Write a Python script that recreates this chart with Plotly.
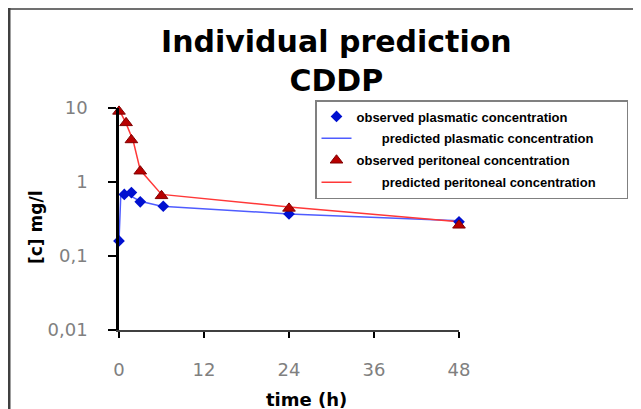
import plotly.graph_objects as go

# ---- data ----
t_obs_plasma = [0, 0.75, 1.75, 3, 6.25, 24, 48]
c_obs_plasma = [0.16, 0.68, 0.72, 0.54, 0.47, 0.37, 0.29]

t_pred_plasma = [0, 0.25, 1, 2, 3, 6, 24, 48]
c_pred_plasma = [0.16, 0.66, 0.72, 0.62, 0.55, 0.47, 0.37, 0.30]

t_obs_perit = [0, 1, 1.75, 3, 6, 24, 48]
c_obs_perit = [9.0, 6.3, 3.7, 1.4, 0.65, 0.44, 0.26]

t_pred_perit = [0, 1, 2, 3, 6, 24, 48]
c_pred_perit = [9.6, 6.2, 3.6, 1.45, 0.68, 0.46, 0.29]

x_ticks = [0, 12, 24, 36, 48]
y_ticks = [0.01, 0.1, 1, 10]
y_ticktext = ["0,01", "0,1", "1", "10"]

names = ["observed plasmatic concentration",
         "predicted plasmatic concentration",
         "observed peritoneal concentration",
         "predicted peritoneal concentration"]

NB = "\u00a0"
fig = go.Figure()

fig.add_trace(go.Scatter(x=t_pred_plasma, y=c_pred_plasma, mode="lines",
                         line=dict(color="#4f5cff", width=1.5),
                         name=NB * 7 + names[1], legendrank=2, legendgroup="b",
                         cliponaxis=False))
fig.add_trace(go.Scatter(x=t_pred_perit, y=c_pred_perit, mode="lines",
                         line=dict(color="#ff3838", width=1.5),
                         name=NB * 7 + names[3] + NB * 7, legendrank=4, legendgroup="d",
                         cliponaxis=False))
fig.add_trace(go.Scatter(x=t_obs_plasma, y=c_obs_plasma, mode="markers",
                         marker=dict(symbol="diamond", size=9, color="#0010d0"),
                         name=names[0], legendrank=1, legendgroup="a",
                         cliponaxis=False))
fig.add_trace(go.Scatter(x=t_obs_perit, y=c_obs_perit, mode="markers",
                         marker=dict(symbol="triangle-up", size=11, color="#b80000",
                                     line=dict(color="#800000", width=1)),
                         name=names[2], legendrank=3, legendgroup="c",
                         cliponaxis=False))

# page is offset by 8px (body margin): work in page pixels, convert
OFF = 8
W, H = 641 - OFF, 409 - OFF
PL, PR, PT, PB = 119, 459, 108, 330   # plot area in page pixels
L, R, T, B = PL - OFF, W - (PR - OFF), PT - OFF, H - (PB - OFF)
pw = PR - PL
ph = PB - PT

def px(x):
    return (x - PL) / pw

def py(y):
    return (PB - y) / ph

fig.update_layout(
    width=W, height=H,
    margin=dict(l=L, r=R, t=T, b=B),
    paper_bgcolor="white", plot_bgcolor="white",
    font=dict(family="DejaVu Sans", color="#000000"),
    showlegend=True,
    legend=dict(x=px(315), y=py(100), xanchor="left", yanchor="top",
                bgcolor="white", bordercolor="#808080", borderwidth=1.5,
                font=dict(family="Liberation Sans, Arial", size=13, weight="bold", color="#000000"),
                tracegroupgap=2),
    xaxis=dict(range=[0, 48], tickvals=x_ticks, ticktext=[str(v) for v in x_ticks],
               showgrid=False, zeroline=False, showline=True, linecolor="#404040",
               linewidth=2, ticks="outside", ticklen=6, tickcolor="#000000", tickwidth=1.5,
               tickfont=dict(family="DejaVu Sans", size=18, color="#808080"),
               ticklabelstandoff=16),
    yaxis=dict(type="log", range=[-2, 1], tickvals=y_ticks, ticktext=y_ticktext,
               showgrid=False, zeroline=False, showline=True, linecolor="#000000",
               linewidth=2.5, ticks="outside", ticklen=8, tickcolor="#000000", tickwidth=1.5,
               tickfont=dict(family="DejaVu Sans", size=18, color="#808080"),
               ticklabelstandoff=17),
    annotations=[
        dict(text="<b>Individual prediction<br>CDDP</b>", xref="paper", yref="paper",
             x=px(336), y=py(61), xanchor="center", yanchor="middle", showarrow=False,
             font=dict(family="DejaVu Sans", size=30, color="#000000")),
        dict(text="time (h)", xref="paper", yref="paper", x=px(306), y=py(399),
             xanchor="center", yanchor="middle",
             showarrow=False, font=dict(family="DejaVu Sans", size=18, weight="bold")),
        dict(text="[c] mg/l", xref="paper", yref="paper", x=px(36), y=py(228),
             xanchor="center", yanchor="middle",
             showarrow=False, textangle=-90,
             font=dict(family="DejaVu Sans", size=17, weight="bold")),
    ],
    shapes=[
        dict(type="line", xref="paper", yref="paper", x0=px(8), x1=px(641),
             y0=py(8.5), y1=py(8.5), line=dict(color="#707070", width=3)),
        dict(type="line", xref="paper", yref="paper", x0=px(9), x1=px(9),
             y0=py(7), y1=py(409), line=dict(color="#404040", width=3)),
    ],
)

fig.write_html("out.html")
